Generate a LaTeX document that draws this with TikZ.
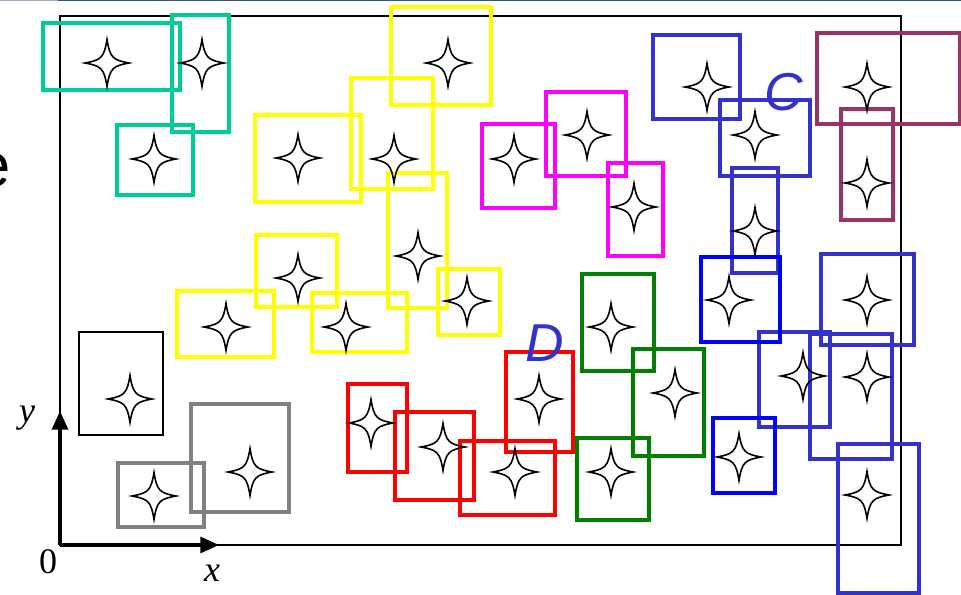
\documentclass[tikz,border=0pt]{standalone}
\usepackage{fontspec}
\setmainfont{Liberation Serif}
\setsansfont{Liberation Sans}
\usepackage{xcolor}
\usetikzlibrary{fit,arrows.meta}

\definecolor{tealc}{RGB}{0,204,153}
\definecolor{yellowc}{RGB}{255,255,0}
\definecolor{magentac}{RGB}{255,0,255}
\definecolor{indigoc}{RGB}{51,51,204}
\definecolor{plumc}{RGB}{153,51,102}
\definecolor{bluec}{RGB}{0,0,255}
\definecolor{greenc}{RGB}{0,128,0}
\definecolor{redc}{RGB}{255,0,0}
\definecolor{grayc}{RGB}{128,128,128}
\definecolor{rulec}{RGB}{47,85,140}

\begin{document}
\begin{tikzpicture}[
    x=0.75pt, y=-0.75pt,
    >={Triangle[length=14pt,width=12pt]},
    box/.style={draw=#1, line width=3pt, inner sep=0pt},
    thinbox/.style={draw=black, line width=1pt, inner sep=0pt},
    spark/.pic={\draw[line width=1.2pt, line join=miter] (0,-23.5)
                 .. controls (3,-5.5) and (5.5,-3) .. (22,0)
                 .. controls (5.5,3) and (3,5.5) .. (0,23.5)
                 .. controls (-3,5.5) and (-5.5,3) .. (-22,0)
                 .. controls (-5.5,-3) and (-3,-5.5) .. cycle;},
    lbl/.style={font=\sffamily\itshape\fontsize{40}{40}\selectfont, text=indigoc, inner sep=0pt},
    axlbl/.style={font=\fontsize{27}{27}\selectfont, inner sep=0pt},
  ]
    \useasboundingbox[fill=white] (0,0) rectangle (961,595);
    \draw[line width=1.2pt, rulec!50] (0,0.6) -- (58,0.6);
    \draw[line width=1.2pt, rulec] (58,0.6) -- (961,0.6);
    \node[anchor=base east, inner sep=0pt, font=\sffamily\fontsize{46}{46}\selectfont] (efrag) at (11,187) {e};

    \node[draw, line width=1.1pt, inner sep=0pt, fit={(60,16)(901,545)}] (frame) {};

    % teal
    \node[box=tealc, fit={(43,23)(180,90)}] (t1) {};
    \node[box=tealc, fit={(172,15)(229,132)}] (t2) {};
    \node[box=tealc, fit={(117,125)(193,195)}] (t3) {};
    % yellow
    \node[box=yellowc, fit={(391,7)(491,105)}] (y1) {};
    \node[box=yellowc, fit={(351,78)(433,189)}] (y2) {};
    \node[box=yellowc, fit={(255,115)(361,202)}] (y3) {};
    \node[box=yellowc, fit={(388,173)(447,308)}] (y4) {};
    \node[box=yellowc, fit={(438,269)(500,335)}] (y5) {};
    \node[box=yellowc, fit={(256,235)(337,307)}] (y6) {};
    \node[box=yellowc, fit={(177,291)(274,357)}] (y7) {};
    \node[box=yellowc, fit={(312,293)(407,352)}] (y8) {};
    % magenta
    \node[box=magentac, fit={(482,124)(555,208)}] (m1) {};
    \node[box=magentac, fit={(546,92)(626,176)}] (m2) {};
    \node[box=magentac, fit={(608,163)(663,256)}] (m3) {};
    % cluster C
    \node[box=indigoc, fit={(653,35)(740,119)}] (c1) {};
    \node[box=indigoc, fit={(720,100)(810,176)}] (c2) {};
    \node[box=indigoc, fit={(732,168)(778,273)}] (c3) {};
    \node[box=indigoc, fit={(821,254)(914,345)}] (c4) {};
    \node[box=indigoc, fit={(759,332)(830,427)}] (c5) {};
    \node[box=indigoc, fit={(810,334)(892,459)}] (c6) {};
    \node[box=indigoc, fit={(838,444)(919,593)}] (c7) {};
    % plum
    \node[box=plumc, fit={(817,33)(960,124)}] (p1) {};
    \node[box=plumc, fit={(841,109)(893,220)}] (p2) {};
    % blue
    \node[box=bluec, fit={(701,257)(780,342)}] (b1) {};
    \node[box=bluec, fit={(713,418)(775,493)}] (b2) {};
    % green
    \node[box=greenc, fit={(582,274)(654,371)}] (g1) {};
    \node[box=greenc, fit={(633,349)(704,456)}] (g2) {};
    \node[box=greenc, fit={(577,438)(649,520)}] (g3) {};
    % red
    \node[box=redc, fit={(348,384)(407,472)}] (r1) {};
    \node[box=redc, fit={(395,412)(474,500)}] (r2) {};
    \node[box=redc, fit={(460,441)(555,515)}] (r3) {};
    \node[box=redc, fit={(506,352)(573,452)}] (r4) {};
    % black and gray
    \node[thinbox, fit={(79,332)(163,435)}] (k1) {};
    \node[box=grayc, fit={(118,463)(204,527)}] (s1) {};
    \node[box=grayc, fit={(191,404)(289,512)}] (s2) {};

    \foreach \p in {(107,63),(202,63),(154,159),
                    (448,63),(394,159),(298,158),(418,256),(467,301),(298,278),(226,327),(346,327),
                    (514,159),(587,135),(634,207),
                    (707,87),(755,135),(755,231),(867,300),(803,376),(867,377),(867,495),
                    (867,87),(867,183),(729,300),(739,457),
                    (611,327),(675,393),(611,472),
                    (371,423),(443,447),(515,472),(539,399),
                    (130,399),(154,496),(250,472)}
      \pic at \p {spark};

    \node[lbl] (labc) at (784,92) {C};
    \node[lbl] (labd) at (545,343) {D};

    \coordinate (orig) at (60,545);
    \coordinate (ytip) at (60,411);
    \coordinate (xtip) at (219,545);
    \draw[->, line width=2.3pt] (orig) -- (ytip);
    \draw[->, line width=2.3pt] (orig) -- (xtip);
    \node[axlbl] (zero) at (48,562) {0};
    \node[axlbl, font=\itshape\fontsize{27}{27}\selectfont] (xl) at (212,573) {x};
    \node[axlbl, font=\itshape\fontsize{27}{27}\selectfont] (yl) at (27,418) {y};
  \end{tikzpicture}
\end{document}
